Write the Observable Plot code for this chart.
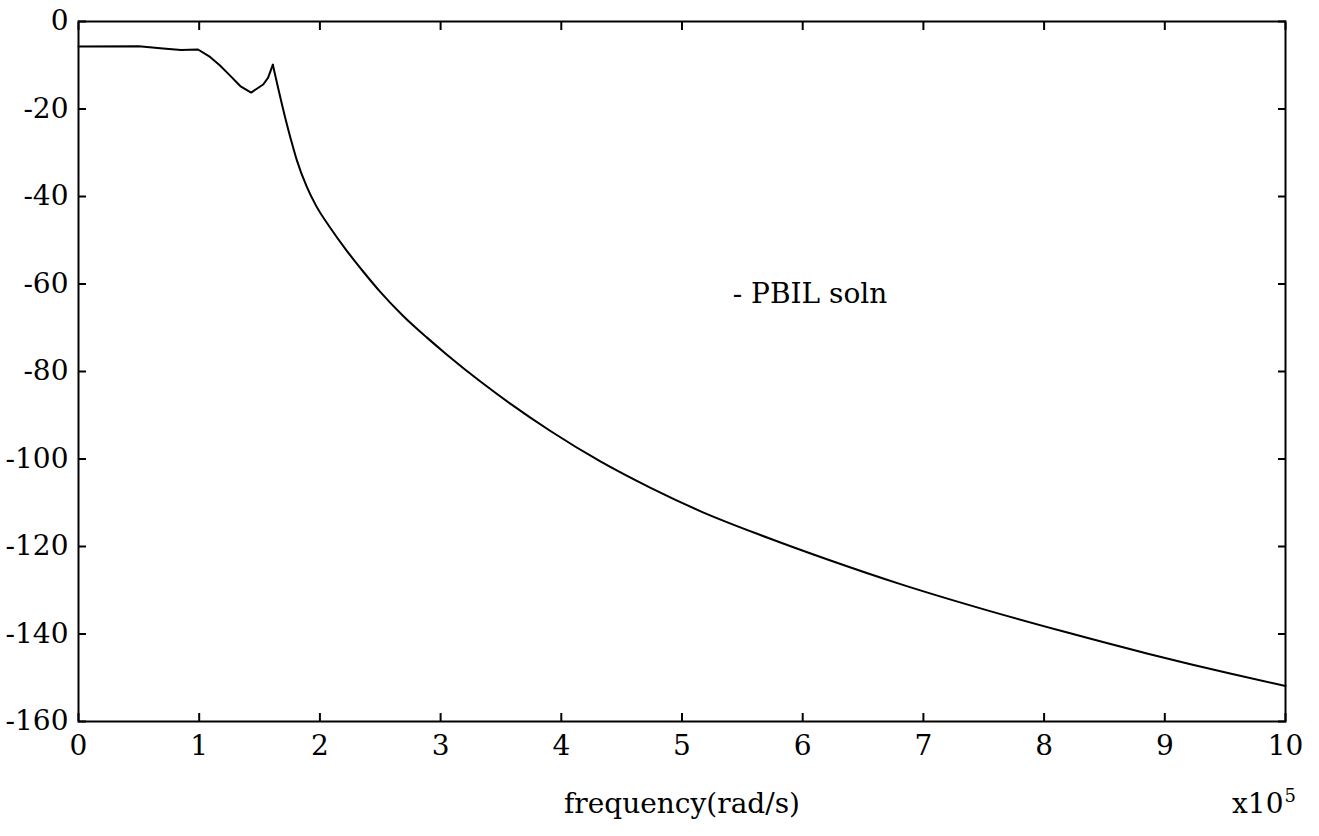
<!DOCTYPE html>
<html>
<head>
<meta charset="utf-8">
<script src="https://cdn.jsdelivr.net/npm/d3@7"></script>
<script src="https://cdn.jsdelivr.net/npm/@observablehq/plot@0.6"></script>
<style>
  html, body { margin: 0; padding: 0; background: #fff; }
  #chart svg { display: block; }
</style>
</head>
<body>
<div id="chart"></div>
<script>
// frequency in units of 1e5 rad/s
const freq = [0, 0.5, 0.7, 0.85, 0.99, 1.09, 1.17, 1.25, 1.34, 1.43, 1.53, 1.57, 1.61,
  1.71, 1.765, 1.81, 1.89, 1.97, 2.08, 2.22, 2.36, 2.5, 2.69, 2.885, 3.05, 3.33, 3.58,
  3.91, 4.32, 4.74, 5.15, 5.71, 6.23, 6.81, 7.48, 8.17, 8.86, 9.55, 10];
// magnitude (dB)
const magnitude = [-5.7, -5.65, -6.15, -6.5, -6.4, -8.1, -10.0, -12.2, -14.75, -16.25, -14.4, -12.9, -9.9,
  -21.7, -27.5, -31.8, -37.7, -42.2, -46.9, -52.3, -57.2, -61.8, -67.3, -72.2, -76.1, -82.3, -87.4,
  -93.6, -100.5, -106.6, -111.9, -118.0, -123.2, -128.6, -134.2, -139.5, -144.5, -149.1, -151.9];
// index of the resonance peak (end of the pass-band part of the trace)
const peakIndex = 12;

const xTicks = [0, 1, 2, 3, 4, 5, 6, 7, 8, 9, 10];
const yTicks = [0, -20, -40, -60, -80, -100, -120, -140, -160];
const xLabel = "frequency(rad/s)";
const xScaleLabel = "x10";
const xScaleExp = "5";
const legendText = ["- PBIL soln"];
const legendX = [5.42];
const legendY = [-62.4];

const FONT = "'DejaVu Serif', serif";
const data = freq.map((f, i) => ({f, m: magnitude[i]}));
const passBand = data.slice(0, peakIndex + 1);
const rollOff = data.slice(peakIndex);
const legend = legendText.map((t, i) => ({t, x: legendX[i], y: legendY[i]}));

const chart = Plot.plot({
  width: 1319,
  height: 836,
  marginLeft: 78,
  marginRight: 34,
  marginTop: 21,
  marginBottom: 115,
  style: {
    fontFamily: FONT,
    fontSize: "28px",
    color: "#000",
    background: "#fff"
  },
  x: {domain: [0, 10]},
  y: {domain: [-160, 0]},
  marks: [
    Plot.axisX({anchor: "bottom", ticks: xTicks, tickSize: -8, tickPadding: 22, strokeWidth: 2,
      tickFormat: d => String(d), label: null, fontFamily: FONT, fontSize: 28}),
    Plot.axisX({anchor: "top", ticks: xTicks, tickSize: -8, strokeWidth: 2,
      tickFormat: () => "", label: null}),
    Plot.axisY({anchor: "left", ticks: yTicks, tickSize: -8, tickPadding: 18, strokeWidth: 2,
      tickFormat: d => String(d), label: null, fontFamily: FONT, fontSize: 28}),
    Plot.axisY({anchor: "right", ticks: yTicks, tickSize: -8, strokeWidth: 2,
      tickFormat: () => "", label: null}),
    Plot.frame({stroke: "#000", strokeWidth: 2}),
    Plot.line(passBand, {x: "f", y: "m", stroke: "#000", strokeWidth: 2}),
    Plot.line(rollOff, {x: "f", y: "m", stroke: "#000", strokeWidth: 2, curve: "monotone-x"}),
    Plot.text(legend, {x: "x", y: "y", text: "t", textAnchor: "start", lineAnchor: "middle",
      fill: "#000", fontFamily: FONT, fontSize: 28}),
    Plot.text([xLabel], {frameAnchor: "bottom", text: d => d, lineAnchor: "bottom", dy: 91,
      fill: "#000", fontFamily: FONT, fontSize: 28}),
    Plot.text([xScaleLabel], {frameAnchor: "bottom-right", text: d => d, textAnchor: "end", lineAnchor: "bottom",
      dx: -2, dy: 91, fill: "#000", fontFamily: FONT, fontSize: 28}),
    Plot.text([xScaleExp], {frameAnchor: "bottom-right", text: d => d, textAnchor: "start", lineAnchor: "bottom",
      dx: -1, dy: 80, fontSize: 18, fill: "#000", fontFamily: FONT})
  ]
});
document.getElementById("chart").appendChild(chart);
</script>
</body>
</html>
